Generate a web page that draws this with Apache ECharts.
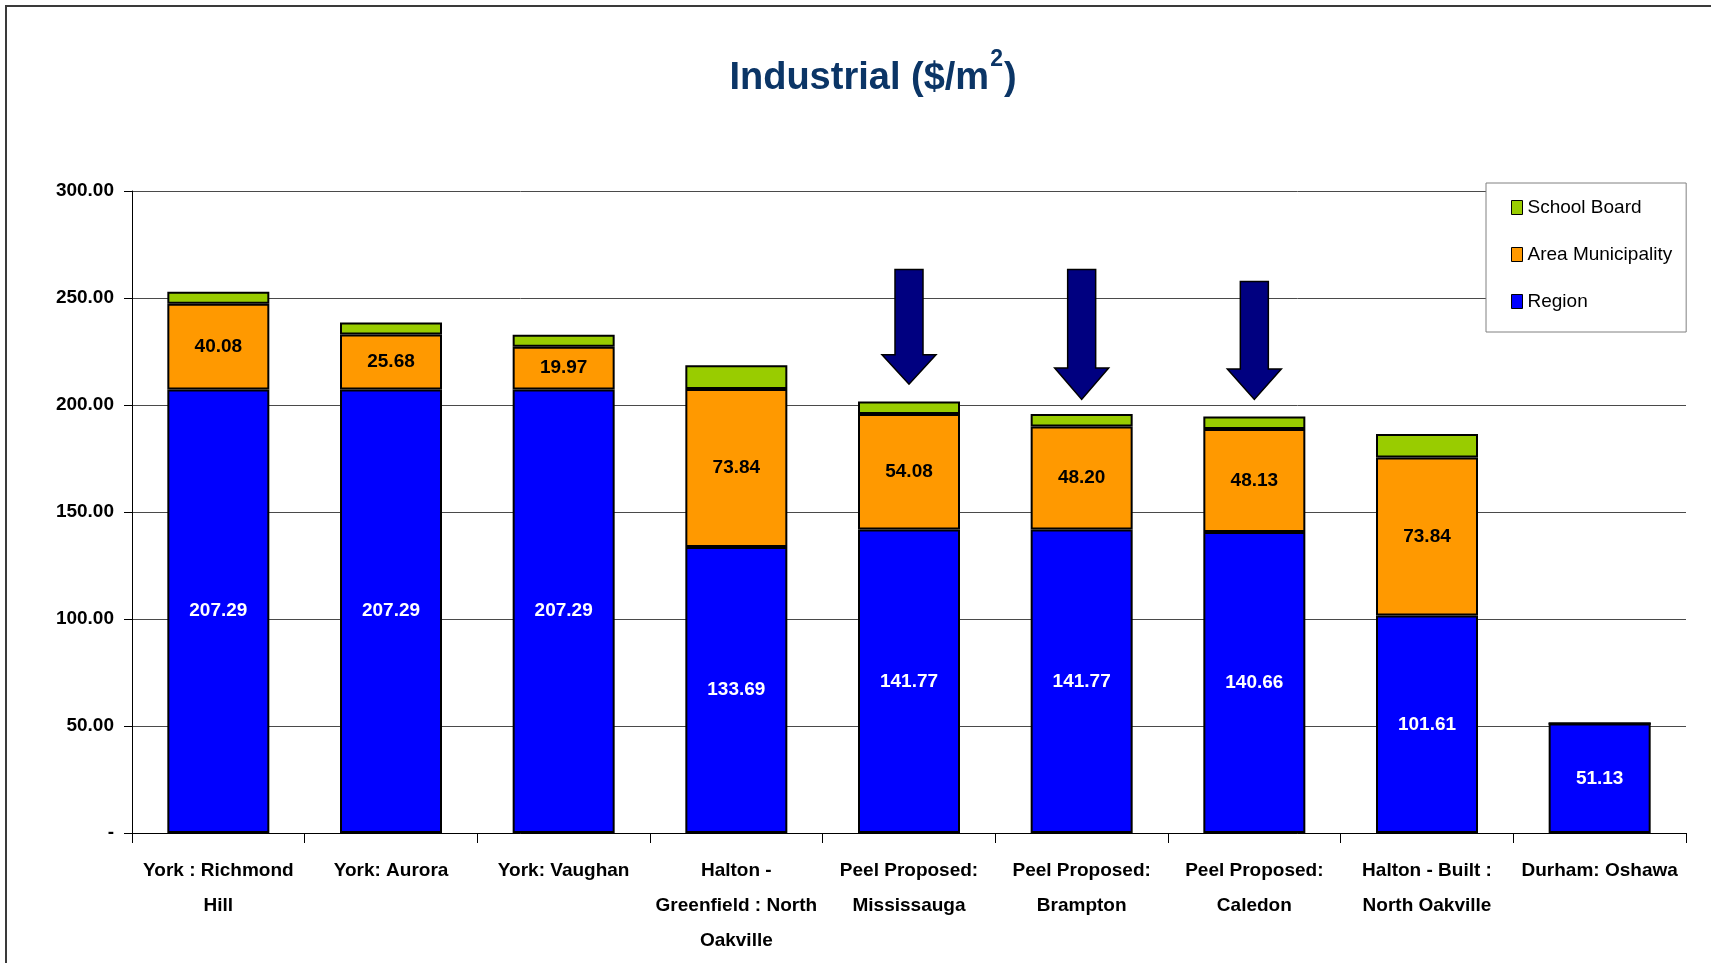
<!DOCTYPE html>
<html>
<head>
<meta charset="utf-8">
<script src="https://cdn.jsdelivr.net/npm/echarts@6/dist/echarts.min.js"></script>
<style>
html,body{margin:0;padding:0;background:#fff;}
#c{width:1711px;height:963px;}
</style>
</head>
<body>
<div id="c"></div>
<script>
const categories = [
  'York : Richmond\nHill',
  'York: Aurora',
  'York: Vaughan',
  'Halton -\nGreenfield : North\nOakville',
  'Peel Proposed:\nMississauga',
  'Peel Proposed:\nBrampton',
  'Peel Proposed:\nCaledon',
  'Halton - Built :\nNorth Oakville',
  'Durham: Oshawa'
];
const region = [207.29, 207.29, 207.29, 133.69, 141.77, 141.77, 140.66, 101.61, 51.13];
const areaMunicipality = [40.08, 25.68, 19.97, 73.84, 54.08, 48.20, 48.13, 73.84, 0];
const schoolBoard = [5.6, 5.6, 5.6, 11.0, 5.8, 5.8, 5.8, 11.0, 0];
const yTicks = [0, 50, 100, 150, 200, 250, 300];
// arrows: [category index, shaft top value, head start value, tip value]
const arrows = [
  [4, 263.3, 223.5, 209.7],
  [5, 263.3, 217.3, 202.6],
  [6, 257.7, 216.8, 202.6]
];

const FONT = "'Liberation Sans Narrow','Arial Narrow','Liberation Sans',Arial,sans-serif";
const chart = echarts.init(document.getElementById('c'), null, {renderer: 'canvas'});

const barBorder = {borderColor: '#000', borderWidth: 2};

chart.setOption({
  backgroundColor: '#fff',
  animation: false,
  graphic: [{
    type: 'rect',
    shape: {x: 6, y: 6, width: 1800, height: 1000},
    style: {fill: 'none', stroke: '#3a3a3a', lineWidth: 2},
    silent: true, z: -1
  }],
  title: {
    text: '{a|Industrial ($/m}{s|2}{a|)}',
    left: 868,
    textAlign: 'center',
    top: 43,
    textStyle: {
      rich: {
        a: {fontFamily: FONT, fontWeight: 'bold', fontSize: 38, color: '#0b3566', lineHeight: 50, verticalAlign: 'bottom'},
        s: {fontFamily: FONT, fontWeight: 'bold', fontSize: 23, color: '#0b3566', lineHeight: 50, verticalAlign: 'top', padding: [0, 1, 22, 1]}
      }
    }
  },
  legend: {
    orient: 'vertical',
    left: 1486,
    top: 183,
    data: ['School Board', 'Area Municipality', 'Region'],
    backgroundColor: '#fff',
    borderColor: '#808080',
    borderWidth: 1,
    borderRadius: 0,
    padding: [15, 14, 21, 25],
    itemGap: 28,
    itemWidth: 11,
    itemHeight: 14,
    icon: 'rect',
    itemStyle: {borderColor: '#000', borderWidth: 1},
    textStyle: {fontFamily: FONT, fontSize: 19, color: '#000'}
  },
  grid: {left: 132, right: 25, top: 191, bottom: 130, containLabel: false},
  xAxis: {
    type: 'category',
    data: categories,
    axisLine: {lineStyle: {color: '#000', width: 1}},
    axisTick: {show: true, length: 10, lineStyle: {color: '#000'}},
    axisLabel: {
      interval: 0, margin: 20, color: '#000',
      fontFamily: FONT, fontWeight: 'bold', fontSize: 19, lineHeight: 35
    },
    splitLine: {show: false}
  },
  yAxis: {
    type: 'value',
    min: 0, max: 300, interval: 50,
    axisLine: {show: true, lineStyle: {color: '#000', width: 1}},
    axisTick: {show: true, inside: false, length: 8, lineStyle: {color: '#000'}},
    axisLabel: {
      margin: 18, color: '#000', fontFamily: FONT, fontWeight: 'bold', fontSize: 19,
      formatter: v => (v === 0 ? '-' : yTicks.includes(v) ? v.toFixed(2) : '')
    },
    splitLine: {show: true, lineStyle: {color: '#4a4a4a', width: 1}}
  },
  series: [
    {
      name: 'Region', type: 'bar', stack: 'total', data: region, barWidth: 102,
      itemStyle: Object.assign({color: '#0000ff'}, barBorder),
      label: {show: true, position: 'inside', color: '#fff', fontFamily: FONT, fontWeight: 'bold', fontSize: 19,
        formatter: p => p.value ? p.value.toFixed(2) : ''}
    },
    {
      name: 'Area Municipality', type: 'bar', stack: 'total', data: areaMunicipality, barWidth: 102,
      itemStyle: Object.assign({color: '#ff9900'}, barBorder),
      label: {show: true, position: 'inside', color: '#000', fontFamily: FONT, fontWeight: 'bold', fontSize: 19,
        formatter: p => p.value ? p.value.toFixed(2) : ''}
    },
    {
      name: 'School Board', type: 'bar', stack: 'total', data: schoolBoard, barWidth: 102,
      itemStyle: Object.assign({color: '#99cc00'}, barBorder)
    },
    {
      name: 'arrows', type: 'custom', data: arrows, z: 5,
      encode: {x: 0, y: [1, 2, 3]},
      renderItem: function (params, api) {
        const idx = api.value(0);
        const pTop = api.coord([idx, api.value(1)]);
        const pHead = api.coord([idx, api.value(2)]);
        const pTip = api.coord([idx, api.value(3)]);
        const cx = pTop[0];
        const sw = 14, hw = 27;
        return {
          type: 'polygon',
          shape: {points: [
            [cx - sw, pTop[1]], [cx + sw, pTop[1]], [cx + sw, pHead[1]], [cx + hw, pHead[1]],
            [cx, pTip[1]], [cx - hw, pHead[1]], [cx - sw, pHead[1]]
          ]},
          style: {fill: '#000080', stroke: '#000', lineWidth: 1.5}
        };
      }
    }
  ]
});
</script>
</body>
</html>
